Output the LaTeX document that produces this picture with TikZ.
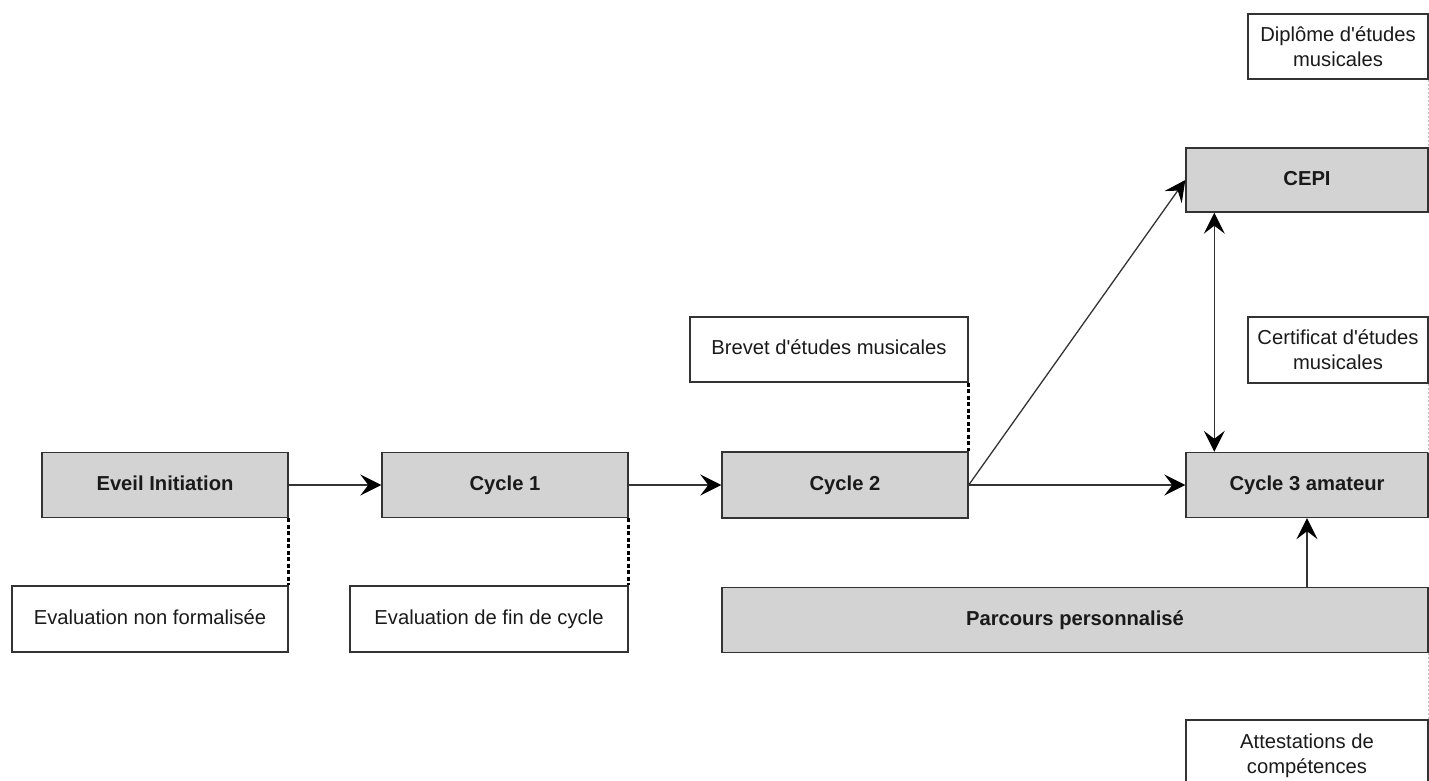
\documentclass[tikz,border=0pt]{standalone}
\usepackage{fontspec}
\setmainfont{Liberation Sans}[Ligatures=TeXOff]
\usetikzlibrary{arrows.meta}
\definecolor{boxgray}{HTML}{D3D3D3}
\definecolor{edgecol}{HTML}{333333}
\definecolor{txtcol}{HTML}{1A1A1A}
\begin{document}
\begin{tikzpicture}[x=1pt,y=-1pt,
  base/.style={draw=edgecol,line width=1.4pt,text=txtcol,inner sep=0pt,align=center,
    font=\fontsize{20.2}{25}\selectfont},
  one/.style={text height=14.5pt,text depth=4pt},
  graybox/.style={base,one,fill=boxgray,font=\fontsize{20.2}{25}\selectfont\bfseries},
  whitebox/.style={base,fill=white},
  tip/.tip={Stealth[length=21pt,width=21pt,inset=8pt,fill=black,color=black]},
  arr/.style={draw=edgecol,line width=1.3pt,-tip},
  darr/.style={draw=edgecol,line width=1.3pt,tip-tip},
  dots/.style={draw=black,line width=3pt,dash pattern=on 4pt off 2.5pt},
  faint/.style={draw=gray!50,line width=1pt,dash pattern=on 2pt off 2pt}]
\useasboundingbox (0,0) rectangle (1429,781);
\clip (0,0) rectangle (1429,781);
\fill[white] (0,0) rectangle (1429,781);
% gray boxes
\node[graybox,minimum width=246pt,minimum height=65pt] (eveil) at (165,485) {Eveil Initiation};
\node[graybox,minimum width=246pt,minimum height=65pt] (c1) at (505,485) {Cycle 1};
\node[graybox,minimum width=246pt,minimum height=66pt] (c2) at (845,485) {Cycle 2};
\node[graybox,minimum width=242pt,minimum height=65pt] (c3) at (1307,485) {Cycle 3 amateur};
\node[graybox,minimum width=242pt,minimum height=64pt] (cepi) at (1307,180) {CEPI};
\node[graybox,minimum width=706pt,minimum height=65pt] (parc) at (1075,620) {Parcours personnalisé};
% white boxes
\node[whitebox,one,minimum width=276pt,minimum height=66pt] (evnf) at (150,619) {Evaluation non formalisée};
\node[whitebox,one,minimum width=278pt,minimum height=66pt] (evfc) at (489,619) {Evaluation de fin de cycle};
\node[whitebox,one,minimum width=278pt,minimum height=65pt] (brevet) at (829,349.5) {Brevet d'études musicales};
\node[whitebox,minimum width=180pt,minimum height=65pt] (diplome) at (1338,46.5) {Diplôme d'études\\musicales};
\node[whitebox,minimum width=180pt,minimum height=66pt] (certif) at (1338,350) {Certificat d'études\\musicales};
\node[whitebox,minimum width=242pt,minimum height=72pt] (attest) at (1307,756) {Attestations de\\compétences};
% arrows
\draw[arr] (eveil.east) -- (c1.west);
\draw[arr] (c1.east) -- (c2.west);
\draw[arr] (c2.east) -- (c3.west);
\draw[arr] (c2.east) -- (cepi.west);
\draw[darr] ([xshift=29pt]cepi.south west) -- ([xshift=29pt]c3.north west);
\draw[arr] (c3.south |- parc.north) -- (c3.south);
% dotted links
\draw[dots] (eveil.south east) -- (evnf.north east);
\draw[dots] (c1.south east) -- (evfc.north east);
\draw[dots] (brevet.south east) -- (c2.north east);
\draw[faint] (diplome.south east) -- (cepi.north east);
\draw[faint] (certif.south east) -- (c3.north east);
\draw[faint] (attest.north east) -- (parc.south east);
\end{tikzpicture}
\end{document}
